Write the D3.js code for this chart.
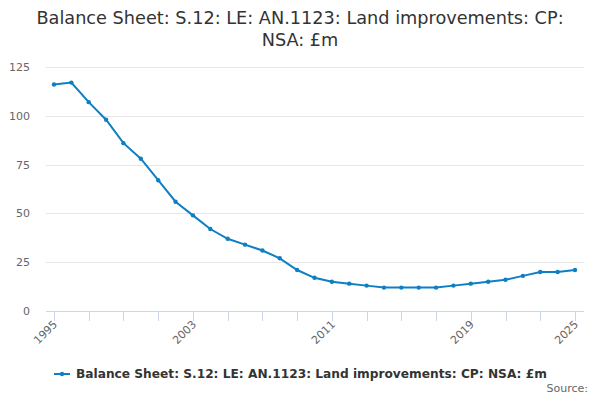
<!DOCTYPE html>
<html><head><meta charset="utf-8">
<script src="https://cdn.jsdelivr.net/npm/d3@7/dist/d3.min.js"></script>
<style>body{margin:0;background:#fff}svg{display:block}text{font-family:"DejaVu Sans",sans-serif}</style>
</head><body><svg id="c" width="600" height="400"></svg>
<script>
const years = d3.range(1995, 2026);
const values = [116,117,107,98,86,78,67,56,49,42,37,34,31,27,21,17,15,14,13,12,12,12,12,13,14,15,16,18,20,20,21];
const yTicks = [0,25,50,75,100,125];
const xLabels = [1995,2003,2011,2019,2025];
const titleLines = ["Balance Sheet: S.12: LE: AN.1123: Land improvements: CP:", "NSA: £m"];
const seriesName = "Balance Sheet: S.12: LE: AN.1123: Land improvements: CP: NSA: £m";

(function(){
const svg = d3.select("#c");
const pL = 46, pR = 584, pT = 67, pB = 311;
const x = d3.scaleLinear().domain([1995, 2025]).range([54, 575]);
const y = d3.scaleLinear().domain([0, 125]).range([pB, pT]);

svg.append("g").selectAll("text").data(titleLines).join("text")
  .attr("x", 300).attr("y", (d,i)=>24+i*22).attr("text-anchor","middle")
  .attr("font-size", 17.7).attr("fill", "#333").text(d=>d);

svg.append("g").selectAll("line").data(yTicks.filter(d=>d>0)).join("line")
  .attr("x1", pL).attr("x2", pR).attr("y1", d=>Math.round(y(d))+0.5).attr("y2", d=>Math.round(y(d))+0.5)
  .attr("stroke", "#e6e6e6");
svg.append("g").selectAll("text").data(yTicks).join("text")
  .attr("x", 30).attr("y", d=>y(d)+4).attr("text-anchor","end")
  .attr("font-size", 11).attr("fill","#666").text(d=>d);

svg.append("line").attr("x1", pL).attr("x2", pR).attr("y1", pB+0.5).attr("y2", pB+0.5).attr("stroke","#ccd6eb");
const tickYears = d3.range(1995, 2026, 2).concat([2025]);
svg.append("g").selectAll("line").data(tickYears).join("line")
  .attr("x1", d=>Math.round(x(d))+0.5).attr("x2", d=>Math.round(x(d))+0.5)
  .attr("y1", pB).attr("y2", pB+10).attr("stroke","#ccd6eb");
svg.append("g").selectAll("text").data(xLabels).join("text")
  .attr("transform", d=>`translate(${x(d)+4},${pB+14}) rotate(-45)`)
  .attr("text-anchor","end").attr("font-size", 11).attr("fill","#666").text(d=>d);

const pts = years.map((yr,i)=>({yr, v: values[i]}));
svg.append("path").datum(pts)
  .attr("d", d3.line().x(d=>x(d.yr)).y(d=>y(d.v)))
  .attr("fill","none").attr("stroke","#0e7fc3").attr("stroke-width",2);
svg.append("g").selectAll("circle").data(pts).join("circle")
  .attr("cx", d=>x(d.yr)).attr("cy", d=>y(d.v)).attr("r", 2.2).attr("fill","#0e7fc3");

svg.append("line").attr("x1",54).attr("x2",70).attr("y1",374).attr("y2",374).attr("stroke","#0e7fc3").attr("stroke-width",2);
svg.append("circle").attr("cx",62).attr("cy",374).attr("r",2.2).attr("fill","#0e7fc3");
svg.append("text").attr("x",76).attr("y",377.7).attr("font-size",12.2).attr("font-weight","bold").attr("fill","#333").text(seriesName);
svg.append("text").attr("x",588).attr("y",392).attr("text-anchor","end").attr("font-size",11).attr("fill","#666").text("Source:");
})();
</script></body></html>
